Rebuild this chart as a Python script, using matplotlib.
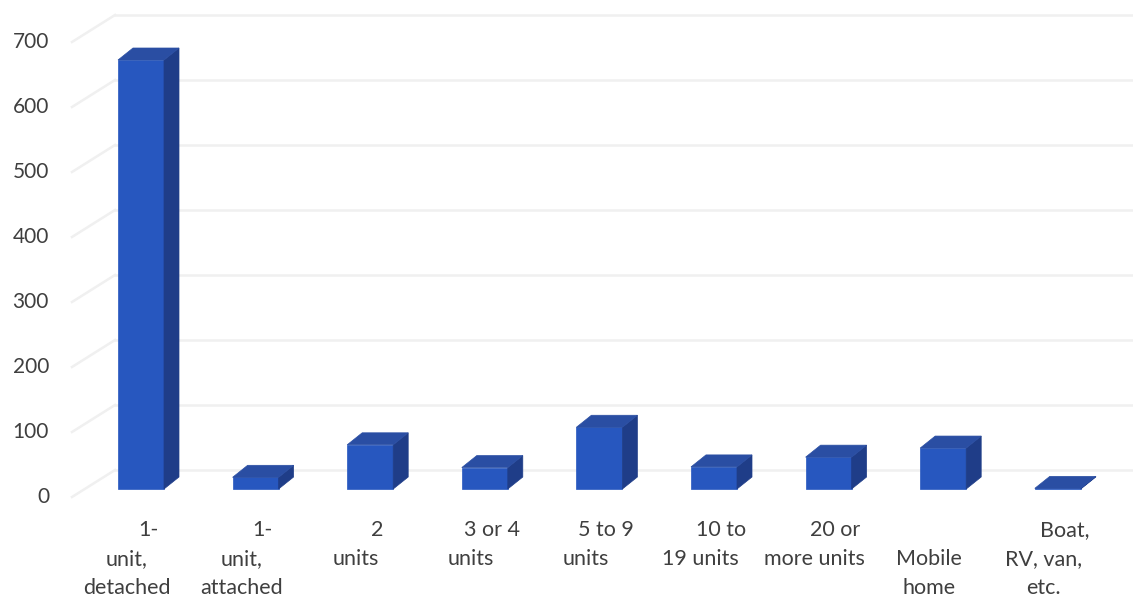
import matplotlib
matplotlib.use("Agg")
import matplotlib.pyplot as plt
from matplotlib.patches import Polygon

# housing units by structure type
categories = ["1-\nunit,\ndetached", "1-\nunit,\nattached", "2\nunits", "3 or 4\nunits",
              "5 to 9\nunits", "10 to\n19 units", "20 or\nmore units", "\nMobile\nhome",
              "Boat,\nRV, van,\netc."]
values = [660, 18, 68, 33, 95, 34, 49, 63, 1]
grid_values = [0, 100, 200, 300, 400, 500, 600, 700]

W, H = 1133, 604
X0, STEP = 141, 114.6      # pixel x of first bar, pixels per category
Y0, SCALE = 489, 0.65      # pixel y of the floor, pixels per unit


def dx(p):
    return p / STEP


def dy(p):
    return p / SCALE


front_c = "#2757bf"
top_c = "#2a4ea3"
side_c = "#1f3d88"
text_c = "#3f3f3f"
grid_c = "#f0f0f0"

fig = plt.figure(figsize=(W / 100, H / 100), dpi=100)
ax = fig.add_axes([0, 0, 1, 1])
ax.set_xlim(-X0 / STEP, (W - X0) / STEP)
ax.set_ylim((Y0 - H) / SCALE, Y0 / SCALE)
ax.axis("off")

# back wall gridlines + the short diagonal on the left wall
back_off = dy(19)
wall_drop = dy(27)
x_corner = dx(115 - X0)
x_wall = dx(72 - X0)
for g in grid_values:
    yb = g + back_off
    ax.plot([x_wall, x_corner], [yb - wall_drop, yb], color=grid_c, lw=1.8, zorder=1)
    ax.plot([x_corner, dx(W - X0)], [yb, yb], color=grid_c, lw=1.8, zorder=1)
    ax.text(dx(49 - X0), yb - wall_drop, str(g), ha="right", va="center",
            fontsize=15, color=text_c, family="Lato")

# pseudo 3d bars: front face, top, right side
bw = dx(46)
ddx, ddy = dx(15), dy(12)
xs = list(range(len(values)))
ax.bar(xs, values, width=bw, color=front_c, edgecolor=front_c, lw=0.5, zorder=3)
for x, v in zip(xs, values):
    l, r = x - bw / 2, x + bw / 2
    top = Polygon([(l, v), (r, v), (r + ddx, v + ddy), (l + ddx, v + ddy)],
                  closed=True, fc=top_c, ec=top_c, lw=0.5, zorder=3)
    side = Polygon([(r, 0), (r + ddx, ddy), (r + ddx, v + ddy), (r, v)],
                   closed=True, fc=side_c, ec=side_c, lw=0.5, zorder=3)
    ax.add_patch(side)
    ax.add_patch(top)

# category labels, one text per wrapped line; first line sits a bit to the right
first_y = dy(Y0 - 530)
line_gap = dy(29)
for x, cat in zip(xs, categories):
    for k, line in enumerate(cat.split("\n")):
        off = dx(-14) + (dx(21) if k == 0 else 0)
        ax.text(x + off, first_y - k * line_gap, line, ha="center", va="center",
                fontsize=15.5, color=text_c, family="Lato")

fig.savefig("out.png", dpi=100)
